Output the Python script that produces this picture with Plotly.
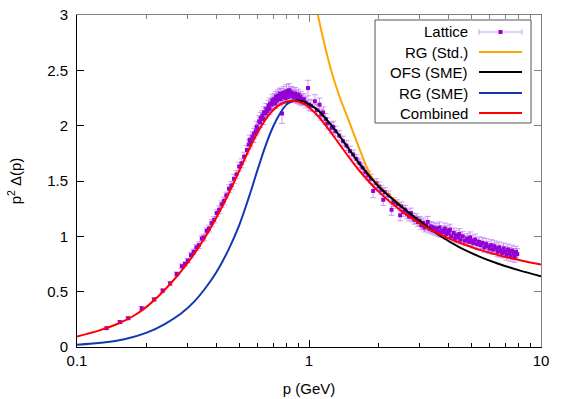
import plotly.graph_objects as go

# ---------------- data ----------------
lat_p = [0.134, 0.153, 0.166, 0.190, 0.215, 0.234, 0.252, 0.269, 0.283, 0.292,
         0.300, 0.310, 0.318, 0.327, 0.335, 0.345, 0.352, 0.362, 0.370, 0.380,
         0.390, 0.400, 0.410, 0.420, 0.430, 0.440, 0.452, 0.463, 0.475, 0.487,
         0.500, 0.512, 0.525, 0.540,
         0.550, 0.555, 0.560, 0.570, 0.575, 0.580, 0.590, 0.595, 0.600, 0.610,
         0.615, 0.620, 0.630, 0.635, 0.640, 0.650, 0.655, 0.660, 0.670, 0.675,
         0.680, 0.690, 0.695, 0.700, 0.710, 0.715, 0.720, 0.730, 0.735, 0.740,
         0.750, 0.755, 0.760, 0.765, 0.770, 0.780, 0.785, 0.790, 0.800, 0.805,
         0.810, 0.820, 0.830, 0.835, 0.840, 0.850, 0.860, 0.870, 0.880, 0.890,
         0.900, 0.910, 0.920, 0.930, 0.950, 0.970, 0.990, 1.000, 1.020, 1.060,
         1.080, 1.110, 1.130, 1.150, 1.180,
         1.20, 1.25, 1.27, 1.30, 1.35, 1.40, 1.45, 1.50, 1.55, 1.60,
         1.65, 1.70, 1.75, 1.80, 1.85, 1.89, 1.95, 2.00, 2.05, 2.09,
         2.12, 2.20, 2.27, 2.31, 2.40, 2.47, 2.50,
         2.55, 2.60, 2.65, 2.70, 2.75, 2.80, 2.85, 2.90, 2.95, 3.00,
         3.05, 3.10, 3.15, 3.20, 3.25, 3.30, 3.35, 3.40, 3.45, 3.50,
         3.55, 3.60, 3.65, 3.70, 3.75, 3.80, 3.85, 3.90, 3.95, 4.00,
         4.05, 4.10, 4.20, 4.25, 4.30, 4.40, 4.45, 4.50, 4.60, 4.70,
         4.80, 4.90, 4.95, 5.00, 5.10, 5.20, 5.30, 5.40, 5.50, 5.60,
         5.70, 5.80, 5.90, 6.00, 6.10, 6.20, 6.30, 6.40, 6.50, 6.60,
         6.70, 6.80, 6.90, 7.00, 7.10, 7.20, 7.30, 7.40, 7.50, 7.60,
         7.70, 7.80, 7.90]
lat_v = [0.17, 0.225, 0.26, 0.35, 0.43, 0.51, 0.575, 0.66, 0.73, 0.75,
         0.78, 0.83, 0.86, 0.90, 0.92, 0.98, 0.99, 1.05, 1.07, 1.12,
         1.15, 1.21, 1.24, 1.29, 1.32, 1.37, 1.43, 1.46, 1.52, 1.56,
         1.63, 1.66, 1.72, 1.78,
         1.83, 1.87, 1.85, 1.90, 1.89, 1.93, 1.95, 1.99, 1.97, 2.04,
         2.03, 2.07, 2.09, 2.06, 2.12, 2.11, 2.15, 2.13, 2.18, 2.15,
         2.20, 2.19, 2.23, 2.21, 2.24, 2.20, 2.26, 2.23, 2.27, 2.25,
         2.29, 2.24, 2.28, 2.11, 2.26, 2.30, 2.27, 2.25, 2.31, 2.28,
         2.26, 2.32, 2.29, 2.27, 2.30, 2.28, 2.26, 2.29, 2.27, 2.25,
         2.28, 2.24, 2.26, 2.23, 2.24, 2.21, 2.34, 2.19, 2.18, 2.22,
         2.14, 2.19, 2.10, 2.12, 2.06,
         2.02, 1.98, 1.99, 1.95, 1.91, 1.86, 1.82, 1.77, 1.74, 1.70,
         1.66, 1.62, 1.58, 1.55, 1.52, 1.41, 1.48, 1.45, 1.42, 1.33,
         1.40, 1.37, 1.24, 1.31, 1.29, 1.19, 1.27,
         1.22, 1.24, 1.20, 1.18, 1.21, 1.17, 1.15, 1.16, 1.13, 1.14,
         1.10, 1.12, 1.08, 1.10, 1.13, 1.07, 1.09, 1.06, 1.08, 1.05,
         1.07, 1.04, 1.08, 1.03, 1.05, 1.04, 1.07, 1.02, 1.05, 1.03,
         1.06, 1.00, 1.03, 0.98, 1.01, 0.99, 1.02, 0.97, 1.00, 0.96,
         0.98, 0.95, 0.99, 0.96, 0.94, 0.97, 0.93, 0.95, 0.92, 0.94,
         0.90, 0.93, 0.91, 0.89, 0.92, 0.88, 0.91, 0.89, 0.86, 0.90,
         0.87, 0.85, 0.89, 0.86, 0.83, 0.88, 0.85, 0.82, 0.87, 0.84,
         0.81, 0.86, 0.84]
lat_err = [0.012, 0.012, 0.012, 0.015, 0.015, 0.015, 0.018, 0.018, 0.02, 0.02,
           0.02, 0.025, 0.025, 0.025, 0.03, 0.025, 0.03, 0.025, 0.03, 0.03,
           0.03, 0.03, 0.035, 0.03, 0.035, 0.03, 0.035, 0.035, 0.04, 0.035,
           0.04, 0.04, 0.04, 0.04,
           0.04, 0.045, 0.04, 0.045, 0.04, 0.045, 0.04, 0.05, 0.045, 0.05,
           0.045, 0.05, 0.045, 0.05, 0.05, 0.045, 0.05, 0.045, 0.05, 0.05,
           0.05, 0.045, 0.05, 0.05, 0.05, 0.045, 0.05, 0.05, 0.055, 0.05,
           0.05, 0.05, 0.055, 0.09, 0.05, 0.055, 0.05, 0.05, 0.06, 0.05,
           0.05, 0.06, 0.05, 0.05, 0.055, 0.05, 0.05, 0.055, 0.05, 0.05,
           0.05, 0.05, 0.05, 0.05, 0.05, 0.05, 0.07, 0.05, 0.05, 0.06,
           0.05, 0.06, 0.05, 0.05, 0.05,
           0.05, 0.05, 0.05, 0.045, 0.045, 0.045, 0.045, 0.045, 0.04, 0.04,
           0.04, 0.04, 0.04, 0.04, 0.04, 0.06, 0.04, 0.04, 0.04, 0.05,
           0.04, 0.04, 0.05, 0.04, 0.04, 0.05, 0.04,
           0.04, 0.04, 0.04, 0.04, 0.045, 0.04, 0.04, 0.045, 0.04, 0.04,
           0.04, 0.045, 0.04, 0.045, 0.05, 0.04, 0.045, 0.04, 0.045, 0.04,
           0.045, 0.04, 0.05, 0.04, 0.045, 0.04, 0.05, 0.045, 0.045, 0.04,
           0.05, 0.045, 0.045, 0.04, 0.045, 0.045, 0.05, 0.04, 0.045, 0.045,
           0.045, 0.04, 0.05, 0.045, 0.045, 0.05, 0.045, 0.045, 0.045, 0.05,
           0.045, 0.05, 0.045, 0.045, 0.05, 0.045, 0.05, 0.05, 0.045, 0.05,
           0.05, 0.045, 0.05, 0.05, 0.045, 0.05, 0.05, 0.045, 0.05, 0.05,
           0.045, 0.05, 0.05]

rg_std_p = [1.05, 1.10, 1.15, 1.20, 1.25, 1.35, 1.50, 1.65, 1.75, 1.85, 2.00, 2.50]
rg_std_v = [3.20, 2.97, 2.79, 2.63, 2.49, 2.27, 2.02, 1.79, 1.655, 1.545, 1.455, 1.28]

ofs_p = [0.80, 0.86, 0.92, 1.00, 1.10, 1.23, 1.40, 1.66, 2.00, 2.50, 3.20, 3.67, 4.50, 5.46, 6.50, 8.00, 10.0]
ofs_v = [2.20, 2.225, 2.225, 2.195, 2.135, 2.02, 1.865, 1.65, 1.45, 1.27, 1.095, 1.005, 0.895, 0.815, 0.755, 0.695, 0.64]

rg_sme_p = [0.10, 0.13, 0.16, 0.20, 0.24, 0.28, 0.32, 0.36, 0.40, 0.45, 0.50, 0.55, 0.60, 0.65, 0.70, 0.75, 0.80, 0.85, 0.88]
rg_sme_v = [0.02, 0.04, 0.07, 0.13, 0.21, 0.30, 0.41, 0.54, 0.68, 0.88, 1.10, 1.35, 1.60, 1.82, 1.99, 2.11, 2.19, 2.225, 2.23]

comb_p = [0.10, 0.125, 0.15, 0.175, 0.20, 0.25, 0.30, 0.35, 0.40, 0.45, 0.50, 0.55, 0.60, 0.68, 0.76,
          0.85, 0.95, 1.08, 1.20, 1.36, 1.50, 1.66, 2.00, 2.50, 3.00, 3.67, 4.50, 5.50, 7.00, 8.50, 10.0]
comb_v = [0.095, 0.15, 0.21, 0.28, 0.365, 0.56, 0.76, 0.965, 1.175, 1.385, 1.59, 1.778, 1.937, 2.111, 2.198,
          2.225, 2.196, 2.099, 1.982, 1.826, 1.704, 1.586, 1.402, 1.23, 1.117, 1.015, 0.94, 0.875, 0.815, 0.775, 0.745]

x_tickvals = [0.1, 1, 10]
x_ticktext = ["0.1", "1", "10"]
x_minor = [0.2, 0.3, 0.4, 0.5, 0.6, 0.7, 0.8, 0.9, 2, 3, 4, 5, 6, 7, 8, 9]
y_tickvals = [0, 0.5, 1, 1.5, 2, 2.5, 3]
y_ticktext = ["0", "0.5", "1", "1.5", "2", "2.5", "3"]

legend_names = ["Lattice", "RG (Std.)", "OFS (SME)", "RG (SME)", "Combined"]

# ---------------- styles ----------------
C_LAT = "#9400d3"
C_LAT_ERR = "rgba(170,80,230,0.55)"
C_ORANGE = "#ffa500"
C_BLACK = "#000000"
C_BLUE = "#1238b0"
C_RED = "#ff0000"
C_FRAME2 = "#808080"
FONT = "Liberation Sans, Arial, sans-serif"

fig = go.Figure()
fig.add_trace(go.Scatter(
    x=lat_p, y=lat_v, mode="markers",
    marker=dict(symbol="square", size=4, color=C_LAT, line=dict(width=0)),
    error_y=dict(type="data", array=lat_err, color=C_LAT_ERR, thickness=1, width=3),
    showlegend=False, name=legend_names[0]))
for xs, ys, col, nm in [(rg_std_p, rg_std_v, C_ORANGE, legend_names[1]),
                        (ofs_p, ofs_v, C_BLACK, legend_names[2]),
                        (rg_sme_p, rg_sme_v, C_BLUE, legend_names[3]),
                        (comb_p, comb_v, C_RED, legend_names[4])]:
    fig.add_trace(go.Scatter(x=xs, y=ys, mode="lines",
                             line=dict(color=col, width=2, shape="spline", smoothing=1.0),
                             showlegend=False, name=nm))
# empty trace so the mirrored (top/right) frame axes exist
fig.add_trace(go.Scatter(x=[], y=[], xaxis="x2", yaxis="y2", showlegend=False, hoverinfo="skip"))

# ---------------- manual gnuplot-style key ----------------
L, R, T, B = 77, 541, 15, 347
W, H = R - L, B - T
def px(x):
    return (x - L) / W
def py(y):
    return (B - y) / H

shapes = [dict(type="rect", xref="paper", yref="paper",
               x0=px(375), x1=px(531), y0=py(123), y1=py(20),
               line=dict(color="#555555", width=1), fillcolor="white", layer="above")]
annotations = []
key_y = [32, 52, 72, 93, 113]
key_cols = [None, C_ORANGE, C_BLACK, C_BLUE, C_RED]
for i, nm in enumerate(legend_names):
    yy = py(key_y[i])
    annotations.append(dict(xref="paper", yref="paper", x=px(470), y=yy, text=nm,
                            xanchor="right", yanchor="middle", showarrow=False,
                            font=dict(family=FONT, size=15, color="black")))
    if i == 0:
        shapes.append(dict(type="line", xref="paper", yref="paper", x0=px(479), x1=px(522),
                           y0=yy, y1=yy, line=dict(color=C_LAT_ERR, width=1), layer="above"))
        for xe in (479, 522):
            shapes.append(dict(type="line", xref="paper", yref="paper", x0=px(xe), x1=px(xe),
                               y0=yy - 3 / H, y1=yy + 3 / H,
                               line=dict(color=C_LAT_ERR, width=1), layer="above"))
        shapes.append(dict(type="rect", xref="paper", yref="paper",
                           x0=px(498.5), x1=px(502.5), y0=yy - 2 / H, y1=yy + 2 / H,
                           line=dict(width=0), fillcolor=C_LAT, layer="above"))
    else:
        shapes.append(dict(type="line", xref="paper", yref="paper", x0=px(479), x1=px(522),
                           y0=yy, y1=yy, line=dict(color=key_cols[i], width=2), layer="above"))

fig.update_layout(
    width=570, height=399,
    margin=dict(l=L, r=570 - R, t=T, b=399 - B, autoexpand=False),
    paper_bgcolor="white", plot_bgcolor="white",
    font=dict(family=FONT, size=15, color="black"),
    shapes=shapes, annotations=annotations,
    xaxis=dict(type="log", range=[-1, 1], tickvals=x_tickvals, ticktext=x_ticktext,
               ticks="inside", ticklen=7, tickcolor="black", showline=True, linecolor="black",
               linewidth=1, mirror=False, showgrid=False, zeroline=False,
               minor=dict(tickvals=x_minor, ticks="inside", ticklen=4, tickcolor="black", showgrid=False),
               title=dict(text="p (GeV)", standoff=15, font=dict(size=15))),
    yaxis=dict(range=[0, 3], tickvals=y_tickvals, ticktext=y_ticktext,
               ticks="inside", ticklen=7, tickcolor="black", showline=True, linecolor="black",
               linewidth=1, mirror=False, showgrid=False, zeroline=False,
               ticklabelstandoff=5,
               title=dict(text="p<sup>2</sup> Δ(p)", standoff=21, font=dict(size=15))),
    xaxis2=dict(type="log", range=[-1, 1], overlaying="x", side="top", anchor="y2",
                tickvals=x_tickvals, showticklabels=False,
                ticks="inside", ticklen=7, tickcolor=C_FRAME2, showline=True, linecolor=C_FRAME2,
                linewidth=1, showgrid=False, zeroline=False,
                minor=dict(tickvals=x_minor, ticks="inside", ticklen=4, tickcolor=C_FRAME2, showgrid=False)),
    yaxis2=dict(range=[0, 3], overlaying="y", side="right", anchor="x2",
                tickvals=y_tickvals, showticklabels=False,
                ticks="inside", ticklen=7, tickcolor=C_FRAME2, showline=True, linecolor=C_FRAME2,
                linewidth=1, showgrid=False, zeroline=False),
)

fig.write_html("out.html", config={"displayModeBar": False},
               post_script="document.body.style.margin='0px';")
